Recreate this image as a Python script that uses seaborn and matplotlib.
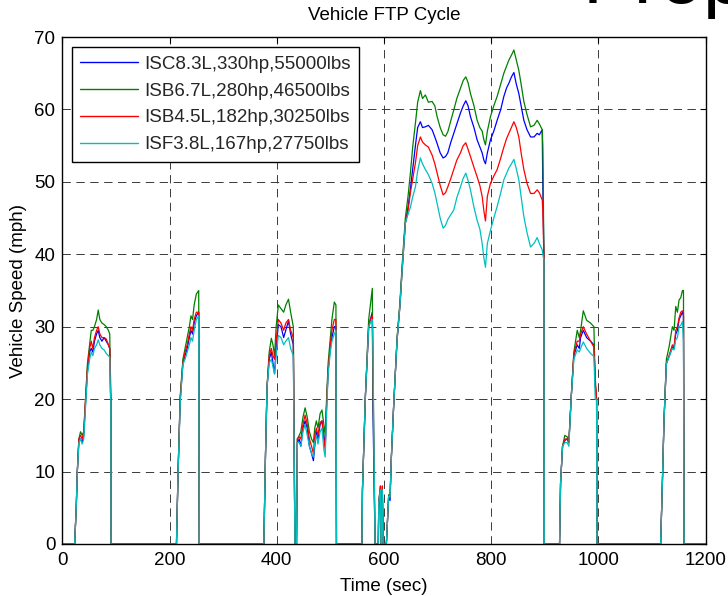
import matplotlib
matplotlib.use("Agg")
import matplotlib.pyplot as plt
from matplotlib.lines import Line2D
import seaborn as sns
import pandas as pd

# ---------------- data ----------------
series_names = ["ISC8.3L,330hp,55000lbs", "ISB6.7L,280hp,46500lbs",
                "ISB4.5L,182hp,30250lbs", "ISF3.8L,167hp,27750lbs"]
series_colors = ["#0000ff", "#008000", "#ff0000", "#00bfbf"]

time_s = [
    0, 23, 26, 28, 31, 34, 37, 40, 43, 47, 51, 54, 57, 60, 64, 67, 70, 74, 78, 82, 86, 88.5, 90, 90.5, 91,
    213, 216, 220, 225, 229, 233, 237, 240, 243, 246, 250, 254.5, 255.5,
    376, 379, 382, 386, 390, 393, 396, 399, 403, 408, 413, 417, 422, 426, 431, 434, 437,
    438.5, 442, 445, 449, 453, 457, 461, 465, 468.5, 471, 474, 477, 481, 484.5, 488, 490.5, 493, 496, 500, 503, 507.5, 510.5, 511.5,
    559, 560, 565.4, 571.6, 574.7, 578.4, 579.5, 583.5, 589.5, 590.5, 593.4, 594.6, 595.8, 597, 598.8, 604.6, 608.9, 611.5, 614, 618.4, 624.6, 630, 634, 640, 645,
    649.4, 654, 658.8, 663, 668.1, 672, 677.4, 683, 689.9, 695, 699.3, 705, 710.5, 715, 719.2, 725, 730.3, 736, 742.8, 748,
    752.8, 757, 761.5, 768, 773.9, 779, 783.3, 786.5, 789.5, 793, 798.8, 805, 811.3, 818, 823.8, 829, 833.1, 838, 842.5, 847,
    851.7, 856, 861.1, 867, 873.6, 880, 886, 890, 895.4, 896.5, 898.5, 899.2,
    927.7, 929.6, 933.3, 937.6, 942, 945.1, 949.5, 954.4, 960.7, 964.5, 967, 972, 978.2, 985.6, 991.8, 994.3, 996.8, 997.4,
    1116.3, 1119.4, 1122.6, 1127, 1132, 1138.2, 1141.3, 1144.5, 1147.6, 1150.7, 1153.8, 1157, 1158.9, 1160.1, 1200,
]

isc83_mph = [
    0, 0, 5, 10, 14.5, 14.5, 14, 15, 19, 24, 26.5, 27, 26.5, 28, 29, 29.5, 28.5, 28, 28.5, 28, 27.5, 27, 21, 20, 0,
    0, 10, 20, 25, 26, 27, 28.5, 29.5, 29, 30.5, 31.5, 32, 0,
    0, 12, 21.7, 25.5, 26.5, 25, 23.5, 27, 30.3, 30, 28.5, 29.5, 30.8, 29, 27.5, 0, 0,
    14, 14.5, 13.5, 16, 17, 16, 13.5, 12.5, 11.5, 13.5, 15.5, 14.5, 16.5, 17, 15, 13.5, 19, 24, 27, 28.5, 30, 30, 0,
    0, 7.5, 20.3, 30, 31, 32, 19, 0, 0, 5.8, 7.5, 0, 0, 7.5, 0, 0, 6.6, 6, 12.1, 19.4, 28.2, 33, 37.8, 44.3, 46.5,
    49, 52, 55, 57.5, 58.3, 57.5, 57.6, 57.8, 57.2, 56.2, 55.3, 54, 53.3, 53.5, 54, 55.5, 56.7, 58, 59.5, 60.5,
    61.2, 60.5, 59, 57.5, 55.8, 54.8, 54, 53, 52.5, 54, 55.8, 57, 58.5, 60, 61.8, 63, 63.6, 64.5, 65.1, 63.5,
    62.2, 60.5, 58.5, 57.2, 56.2, 56.2, 56.7, 56.5, 57.2, 49.3, 40, 0,
    0, 8.4, 13.5, 14.3, 14.5, 14, 20.3, 26, 27.5, 27, 28.5, 29.5, 28.5, 28, 27.5, 22, 20, 0,
    0, 8, 17.1, 24.9, 25.9, 27.2, 27, 29, 29.5, 31, 31.5, 32, 31.5, 0, 0,
]

isb67_mph = [
    0, 0, 5, 10, 14.5, 15.5, 15, 15.5, 19.5, 25, 27.5, 29.5, 29.5, 30, 31, 32.3, 31, 30.5, 30.3, 30, 29.5, 29, 21, 20, 0,
    0, 10, 20.5, 25.5, 27, 28.5, 30, 31.5, 31, 33, 34.5, 35, 0,
    0, 12, 21.7, 26.5, 28.4, 27.5, 26, 30, 33, 32.5, 32, 33, 33.8, 32, 30, 0, 0,
    14.5, 15, 15.5, 17.5, 18.8, 17.5, 15.5, 14.5, 14, 16, 17, 16, 18, 18.5, 16.5, 15, 20, 25, 28.5, 31, 33.4, 33, 0,
    0, 7.5, 20.3, 31, 33, 35.3, 22, 0, 0, 5.8, 8, 0, 0, 8, 0, 0, 6.8, 6.8, 12.1, 19.4, 28.5, 33.5, 38.5, 45, 48,
    51.2, 55, 58.1, 61, 62.6, 61.5, 62, 61, 61.1, 60.5, 59, 57.5, 56.5, 56.3, 56.9, 58.5, 59.9, 61.5, 62.9, 64,
    64.5, 63.7, 62.2, 60.5, 58.5, 57.5, 57, 55.8, 55.1, 57, 59, 60.5, 61.8, 63.5, 65, 66, 66.8, 67.5, 68.2, 66.8,
    65.4, 63.5, 61.1, 59.3, 57.6, 57.8, 58.5, 58, 57.2, 55, 40, 0,
    0, 8.4, 13.5, 15, 14.8, 14.2, 20.3, 26.5, 29.5, 28.5, 29.5, 32.2, 30.9, 30.5, 30, 22, 20, 0,
    0, 8, 17.1, 25.5, 27.2, 30, 29.5, 32.8, 32, 33.7, 34, 35, 35, 0, 0,
]

isb45_mph = [
    0, 0, 5, 10, 14.5, 15, 14.5, 15.5, 19.5, 24.5, 27, 28, 27, 28.5, 29.5, 30, 29, 28.5, 28.5, 28.3, 27.5, 27, 23, 20, 0,
    0, 10, 20, 25, 26.5, 27.5, 29, 30, 29.5, 31, 32, 32, 0,
    0, 12, 21.7, 26, 27, 26, 25.5, 28, 31, 30.5, 29.5, 30.5, 31, 29.5, 28.5, 0, 0,
    14.5, 14.8, 14.5, 16.5, 17.8, 16.5, 14.5, 13.5, 12.5, 15, 16, 15, 16.8, 17, 14.5, 13, 19, 24, 27.5, 29.5, 31, 31, 0,
    0, 7.5, 20.3, 30, 31, 31.5, 25, 0, 0, 5.8, 8, 0, 0, 8, 0, 0, 6.6, 6.5, 12.1, 19.4, 28.2, 33, 37.8, 44.3, 46,
    48.5, 50.5, 52.6, 55, 56.2, 55.5, 55.1, 54.8, 53.7, 52.5, 51.2, 49.5, 48.2, 48.5, 49.3, 50.5, 51.7, 53, 54, 55,
    55.4, 54.5, 53.5, 52, 50.7, 49.5, 48, 46, 44.6, 48, 49.8, 50.8, 51.7, 53.3, 54.8, 56, 56.7, 57.5, 58.3, 57.5,
    56.2, 54, 51.7, 49.8, 48.4, 48.4, 48.9, 48.5, 47.5, 46, 39.6, 0,
    0, 8.4, 13.5, 14.5, 14.5, 14, 20.3, 26.3, 28, 28, 29, 30, 29, 28, 27.2, 23, 20, 0,
    0, 8, 17.1, 24.9, 26, 27.5, 27.2, 29.5, 30, 31.2, 32, 32.2, 32, 0, 0,
]

isf38_mph = [
    0, 0, 5, 10, 14, 14.5, 13.8, 14.5, 18.5, 23.5, 25.5, 26.5, 26, 27, 27.5, 28.2, 27.5, 27, 26.8, 26.3, 26, 25.8, 20, 20, 0,
    0, 10, 19.5, 24.8, 25.5, 26.5, 27.5, 28.5, 28, 29.5, 31, 31.5, 0,
    0, 12, 21.7, 25, 25.5, 24.5, 23.5, 26, 28.8, 28.5, 27.5, 28, 28.5, 27, 26, 0, 0,
    14, 14, 13.5, 15.5, 16.5, 15, 13.5, 12.5, 12, 14, 15, 13.8, 15.5, 16, 13, 12, 18, 23.5, 26.5, 28, 29, 29.5, 0,
    0, 7.5, 20.3, 30, 30.5, 31, 27, 0, 0, 5.8, 7.5, 0, 0, 7.5, 0, 0, 6.6, 6.5, 12.1, 19.4, 28.2, 33, 37.8, 44.3, 45.5,
    46.5, 48, 49.3, 51.5, 53.3, 52.5, 51.7, 51, 49.8, 48.5, 47, 45, 43.6, 44, 44.8, 45.5, 46.1, 47.8, 49.3, 50.5,
    51.2, 50.2, 48.9, 46.5, 44.7, 43.5, 41.5, 39.5, 38.2, 41.5, 43.3, 45, 46.6, 48.5, 50.3, 51.2, 51.9, 52.5, 53.1, 51.8,
    50.3, 48, 45.2, 43, 41, 41.5, 42.3, 41.5, 40.6, 40, 39.2, 0,
    0, 8.4, 13.5, 14, 14, 13.5, 20.3, 25.5, 26.8, 26.5, 27, 27.9, 27, 26.3, 25.9, 20, 20, 0,
    0, 8, 17.1, 24.9, 25.8, 27, 26.8, 28.2, 28.5, 30, 30.2, 30.7, 28, 0, 0,
]

x_ticks = [0, 200, 400, 600, 800, 1000, 1200]
y_ticks = [0, 10, 20, 30, 40, 50, 60, 70]

title_text = "Vehicle FTP Cycle"
x_label = "Time (sec)"
y_label = "Vehicle Speed (mph)"

# ---------------- build long-form table ----------------
all_speeds = [isc83_mph, isb67_mph, isb45_mph, isf38_mph]
for s in all_speeds:
    assert len(s) == len(time_s), (len(s), len(time_s))

frames = []
for name, speeds in zip(series_names, all_speeds):
    frames.append(pd.DataFrame({"time": time_s, "speed": speeds, "series": name}))
df = pd.concat(frames, ignore_index=True)

# ---------------- style ----------------
sns.set_theme(style="white")
plt.rcParams["font.family"] = ["Liberation Sans", "DejaVu Sans"]
plt.rcParams["lines.scale_dashes"] = False
FS = 13.5

fig = plt.figure(figsize=(7.28, 5.96), dpi=100)
ax = fig.add_axes([62.3 / 728, 1 - 544 / 596, (705.5 - 62.3) / 728, (544 - 37) / 596])

sns.lineplot(data=df, x="time", y="speed", hue="series", palette=series_colors,
             hue_order=series_names, sort=False, estimator=None, linewidth=0.9,
             legend=False, ax=ax)

ax.set_xlim(0, 1200)
ax.set_ylim(0, 70)
ax.set_xticks(x_ticks)
ax.set_yticks(y_ticks)
ax.set_xticklabels([str(v) for v in x_ticks])
ax.set_yticklabels([str(v) for v in y_ticks])
ax.tick_params(direction="in", length=4, width=0.8, top=True, right=True,
               labelsize=FS, colors="black", pad=5)
ax.tick_params(axis="x", pad=6)

ax.set_axisbelow(True)
ax.grid(True, color="#3a3a3a", linestyle=(0, (6, 4)), linewidth=0.7)

for sp in ax.spines.values():
    sp.set_color("black")
    sp.set_linewidth(1.0)

ax.set_title(title_text, fontsize=FS, pad=12, color="black")
ax.set_xlabel(x_label, fontsize=FS, labelpad=6, color="black")
ax.set_ylabel(y_label, fontsize=FS, labelpad=5, color="black")

handles = [Line2D([0], [0], color=c, lw=1.0) for c in series_colors]
leg = ax.legend(handles, series_names, loc="upper left",
                bbox_to_anchor=(0.0146, 0.98), borderaxespad=0,
                fontsize=FS, frameon=True, fancybox=False, framealpha=1,
                edgecolor="black", handlelength=3.1, handletextpad=0.3,
                labelspacing=0.52, borderpad=0.45)
leg.get_frame().set_linewidth(1.0)

# cropped large slide text at the very top right (only its lower edge shows)
fig.text(583 / 728, 1 - 3 / 596, "Prop", fontsize=56, ha="left", va="baseline",
         color="black")

fig.savefig("out.png", dpi=100)
